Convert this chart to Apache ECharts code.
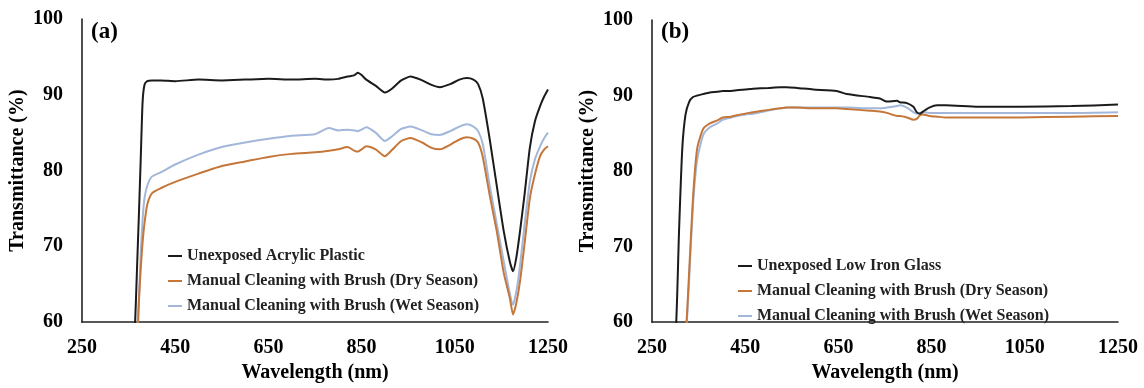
<!DOCTYPE html>
<html>
<head>
<meta charset="utf-8">
<script src="https://cdn.jsdelivr.net/npm/echarts@6/dist/echarts.min.js"></script>
<style>
  html, body { margin: 0; padding: 0; background: #fff; }
  #chart { width: 1144px; height: 388px; }
</style>
</head>
<body>
<div id="chart"></div>
<script>
// panel (a) - acrylic plastic
const wlA = [360, 364, 368, 372, 376, 380, 384, 390, 400, 420, 450, 500, 550, 600, 650, 700, 750, 780, 800, 820, 835, 842, 850, 860, 880, 900, 915, 935, 955, 980, 1000, 1018, 1040, 1060, 1076, 1090, 1100, 1110, 1125, 1140, 1155, 1168, 1175, 1182, 1190, 1200, 1211, 1222, 1233, 1242, 1250];
const acrylic = [57, 60, 67, 74, 81.5, 89, 91.3, 91.8, 91.9, 91.9, 91.8, 92.0, 91.9, 92.0, 92.1, 92.0, 92.1, 92.0, 92.1, 92.4, 92.6, 92.9, 92.6, 92.0, 91.2, 90.3, 90.8, 91.9, 92.4, 91.9, 91.3, 91.0, 91.4, 92.0, 92.2, 92.0, 91.4, 89.5, 84.1, 78.0, 72.0, 68.0, 66.7, 68.5, 72.0, 77.0, 83.0, 86.5, 88.5, 89.8, 90.7];
const dryA = [50, 53, 56, 62.5, 67, 70.5, 73, 75.5, 77.0, 77.7, 78.5, 79.6, 80.6, 81.2, 81.8, 82.2, 82.4, 82.6, 82.8, 83.1, 82.6, 82.5, 82.8, 83.2, 82.8, 81.9, 82.7, 83.9, 84.3, 83.7, 83.0, 82.8, 83.4, 84.1, 84.4, 84.2, 83.7, 81.8, 76.7, 72.0, 66.5, 63.2, 61.0, 62.5, 65.4, 70.5, 76.3, 79.5, 81.9, 82.8, 83.2];
const wetA = [50, 54, 58.5, 63, 69, 73.5, 76.3, 78.0, 79.2, 79.8, 80.8, 82.1, 83.1, 83.7, 84.2, 84.6, 84.8, 85.6, 85.3, 85.4, 85.3, 85.2, 85.4, 85.7, 85.0, 83.9, 84.5, 85.5, 85.8, 85.3, 84.8, 84.7, 85.2, 85.8, 86.1, 85.8, 85.2, 83.5, 78.0, 73.0, 68.0, 63.8, 62.3, 64.0, 67.5, 73.0, 78.5, 81.5, 83.2, 84.3, 85.0];

// panel (b) - low iron glass
const wlB = [295, 302, 308, 315, 322, 330, 338, 347, 360, 374, 390, 402, 420, 432, 450, 467, 500, 525, 539, 561, 596, 646, 668, 718, 739, 754, 776, 782, 797, 811, 818, 825, 832, 845, 862, 880, 950, 1040, 1150, 1250];
const glass = [56, 60, 72, 83, 87.5, 89.2, 89.8, 90.0, 90.2, 90.4, 90.5, 90.6, 90.6, 90.7, 90.8, 90.9, 91.0, 91.1, 91.1, 91.0, 90.8, 90.6, 90.2, 89.8, 89.6, 89.2, 89.3, 89.1, 89.0, 88.5, 87.8, 87.6, 87.9, 88.4, 88.7, 88.7, 88.5, 88.5, 88.6, 88.8];
const dryB = [40, 45, 48, 53, 57.5, 67, 76.5, 83, 85.6, 86.3, 86.7, 87.1, 87.2, 87.4, 87.6, 87.8, 88.1, 88.3, 88.4, 88.4, 88.3, 88.3, 88.2, 88.0, 87.9, 87.7, 87.3, 87.3, 87.1, 86.8, 86.9, 87.4, 87.5, 87.3, 87.2, 87.1, 87.1, 87.1, 87.2, 87.3];
const wetB = [40, 44, 47, 52, 57, 66, 75.5, 81.5, 84.8, 85.8, 86.3, 86.8, 87.1, 87.3, 87.5, 87.6, 88.0, 88.3, 88.4, 88.4, 88.4, 88.4, 88.4, 88.3, 88.3, 88.4, 88.6, 88.7, 88.4, 87.8, 87.6, 87.7, 87.8, 87.7, 87.7, 87.7, 87.7, 87.7, 87.7, 87.8];

const xTicks = [250, 450, 650, 850, 1050, 1250];
const yTicks = [60, 70, 80, 90, 100];

const nameAcrylic = 'Unexposed Acrylic Plastic';
const nameGlass = 'Unexposed Low Iron Glass';
const nameDry = 'Manual Cleaning with Brush (Dry Season)';
const nameWet = 'Manual Cleaning with Brush (Wet Season)';

const BLACK = '#1b1b1b';
const ORANGE = '#c5773a';
const BLUE = '#a3b7da';
const FONT = '"Liberation Serif", "DejaVu Serif", serif';

const pairs = (xs, ys) => xs.map((x, i) => [x, ys[i]]);

const xAxisOf = (gridIndex) => ({
  gridIndex,
  type: 'value',
  min: xTicks[0],
  max: xTicks[xTicks.length - 1],
  interval: 200,
  name: 'Wavelength (nm)',
  nameLocation: 'middle',
  nameGap: 37,
  nameTextStyle: { fontFamily: FONT, fontWeight: 'bold', fontSize: 20, color: '#000' },
  axisLine: { lineStyle: { color: '#222', width: 1.6 } },
  axisTick: { show: false },
  splitLine: { show: false },
  axisLabel: {
    margin: 16, fontFamily: FONT, fontWeight: 'bold', fontSize: 20, color: '#000',
    formatter: (v) => String(v)  // no thousands separator
  }
});

const yAxisOf = (gridIndex) => ({
  gridIndex,
  type: 'value',
  min: yTicks[0],
  max: yTicks[yTicks.length - 1],
  interval: 10,
  name: 'Transmittance (%)',
  nameLocation: 'middle',
  nameGap: 54,
  nameTextStyle: { fontFamily: FONT, fontWeight: 'bold', fontSize: 20, color: '#000' },
  axisLine: { show: true, lineStyle: { color: '#222', width: 1.6 } },
  axisTick: { show: false },
  splitLine: { show: false },
  axisLabel: { margin: 19, fontFamily: FONT, fontWeight: 'bold', fontSize: 20, color: '#000' }
});

const lineOf = (name, idx, xs, ys, color) => ({
  name,
  type: 'line',
  xAxisIndex: idx,
  yAxisIndex: idx,
  data: pairs(xs, ys),
  symbol: 'none',
  smooth: 0.2,
  clip: true,
  lineStyle: { color, width: 2 },
  itemStyle: { color }
});

const legendOf = (left, top, names) => ({
  orient: 'vertical',
  left,
  top,
  data: names,
  icon: 'rect',
  itemWidth: 14,
  itemHeight: 2,
  itemGap: 7,
  selectedMode: false,
  textStyle: { fontFamily: FONT, fontWeight: 'bold', fontSize: 16, color: '#222', lineHeight: 18 }
});

const chart = echarts.init(document.getElementById('chart'));
chart.setOption({
  animation: false,
  backgroundColor: '#fff',
  title: [
    { text: '(a)', left: 86, top: 16, textStyle: { fontFamily: FONT, fontWeight: 'bold', fontSize: 23, color: '#000' } },
    { text: '(b)', left: 656, top: 16, textStyle: { fontFamily: FONT, fontWeight: 'bold', fontSize: 23, color: '#000' } }
  ],
  grid: [
    { left: 82, top: 19, width: 466, height: 305 },
    { left: 652, top: 20, width: 466, height: 306 }
  ],
  xAxis: [xAxisOf(0), xAxisOf(1)],
  yAxis: [yAxisOf(0), yAxisOf(1)],
  legend: [
    legendOf(163, 242, [nameAcrylic, nameDry, nameWet]),
    legendOf(733, 252, [nameGlass, nameDry, nameWet])
  ],
  series: [
    lineOf(nameWet, 0, wlA, wetA, BLUE),
    lineOf(nameDry, 0, wlA, dryA, ORANGE),
    lineOf(nameAcrylic, 0, wlA, acrylic, BLACK),
    lineOf(nameWet, 1, wlB, wetB, BLUE),
    lineOf(nameDry, 1, wlB, dryB, ORANGE),
    lineOf(nameGlass, 1, wlB, glass, BLACK)
  ]
});
</script>
</body>
</html>
